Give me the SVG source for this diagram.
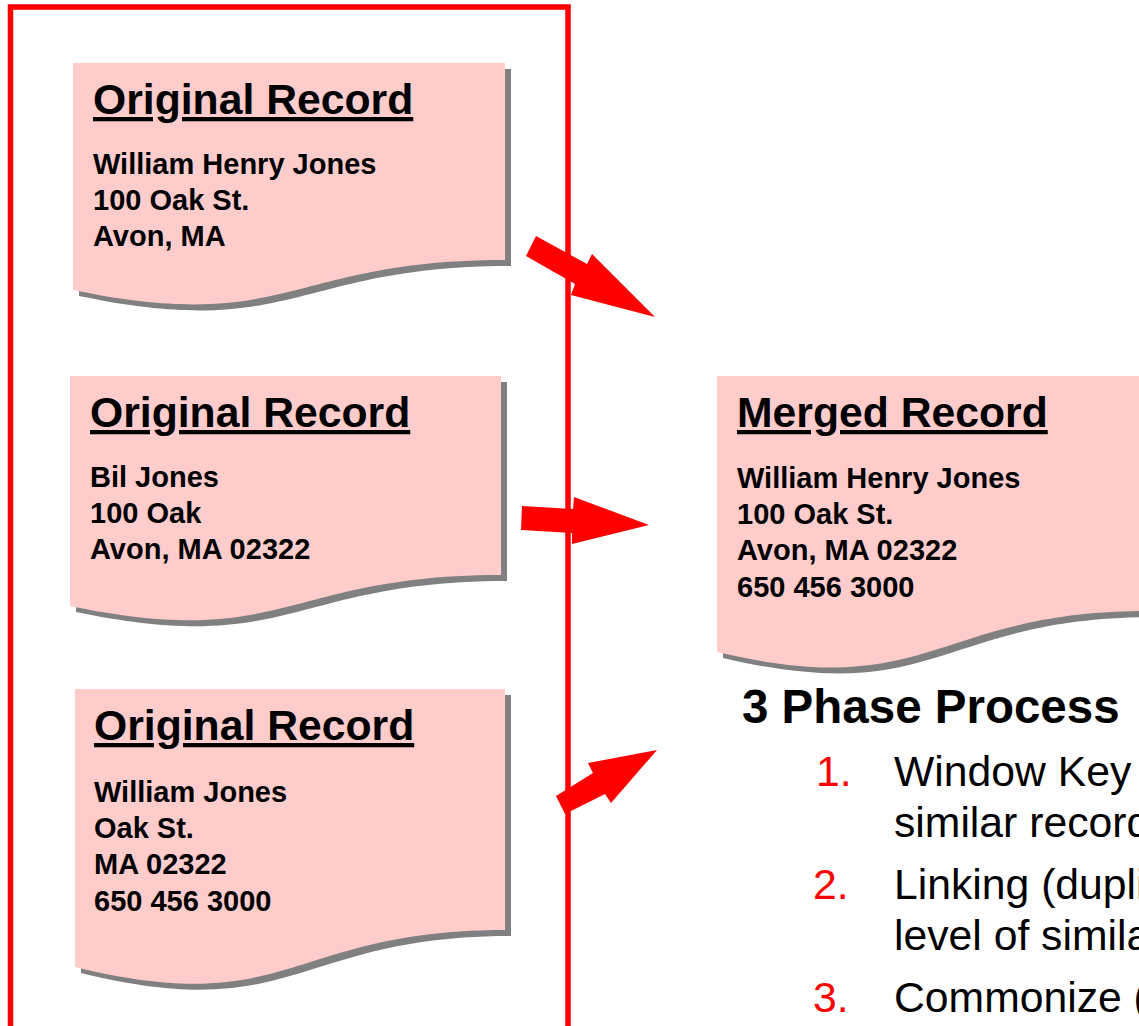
<svg xmlns="http://www.w3.org/2000/svg" width="1139" height="1026" viewBox="0 0 1139 1026">
<style>
.doc{fill:#FFCCCC}
.shd{fill:#808080}
.hd{font-family:"Liberation Sans",Arial,sans-serif;font-weight:bold;font-size:42.7px;text-decoration:underline;fill:#000}
.bd{font-family:"Liberation Sans",Arial,sans-serif;font-weight:bold;font-size:29px;fill:#000}
.ttl{font-family:"Liberation Sans",Arial,sans-serif;font-weight:bold;font-size:47.5px;fill:#000}
.li{font-family:"Liberation Sans",Arial,sans-serif;font-size:42.7px;fill:#000}
.num{font-family:"Liberation Sans",Arial,sans-serif;font-size:42.7px;fill:#FF0000}
.arr{fill:#FF0000}
</style>
<rect width="1139" height="1026" fill="#FFFFFF"/>
<rect id="frame" x="10.5" y="7" width="557.5" height="1100" fill="none" stroke="#FF0000" stroke-width="5.5"/>
<g id="doc1">
<path class="shd" transform="translate(6,6)" d="M73,63 H505 V260 C289,260 289,335 73,290 Z"/>
<path class="doc" d="M73,63 H505 V260 C289,260 289,335 73,290 Z"/>
<text class="hd" x="93" y="114">Original Record</text>
<text class="bd" x="93" y="174">William Henry Jones</text>
<text class="bd" x="93" y="210">100 Oak St.</text>
<text class="bd" x="93" y="246">Avon, MA</text>
</g>
<g id="doc2">
<path class="shd" transform="translate(6,6)" d="M70,376 H501 V575 C285.5,575 285.5,651 70,606 Z"/>
<path class="doc" d="M70,376 H501 V575 C285.5,575 285.5,651 70,606 Z"/>
<text class="hd" x="90" y="427">Original Record</text>
<text class="bd" x="90" y="487">Bil Jones</text>
<text class="bd" x="90" y="523">100 Oak</text>
<text class="bd" x="90" y="559">Avon, MA 02322</text>
</g>
<g id="doc3">
<path class="shd" transform="translate(6,6)" d="M75,689 H505 V930 C290,930 290,1020 75,967 Z"/>
<path class="doc" d="M75,689 H505 V930 C290,930 290,1020 75,967 Z"/>
<text class="hd" x="94" y="740">Original Record</text>
<text class="bd" x="94" y="802">William Jones</text>
<text class="bd" x="94" y="838">Oak St.</text>
<text class="bd" x="94" y="874">MA 02322</text>
<text class="bd" x="94" y="911">650 456 3000</text>
</g>
<g id="merged">
<path class="shd" transform="translate(6,6)" d="M717,376 H1149 V611 C933,611 933,703 717,652 Z"/>
<path class="doc" d="M717,376 H1149 V611 C933,611 933,703 717,652 Z"/>
<text class="hd" x="737" y="427">Merged Record</text>
<text class="bd" x="737" y="488">William Henry Jones</text>
<text class="bd" x="737" y="524">100 Oak St.</text>
<text class="bd" x="737" y="560">Avon, MA 02322</text>
<text class="bd" x="737" y="597">650 456 3000</text>
</g>
<g id="process">
<text class="ttl" x="742" y="723">3 Phase Process</text>
<text class="num" x="816" y="786">1.</text>
<text class="li" x="894" y="786">Window Key</text>
<text class="li" x="894" y="837">similar record</text>
<text class="num" x="813" y="899">2.</text>
<text class="li" x="894" y="899">Linking (dupli</text>
<text class="li" x="894" y="950">level of simila</text>
<text class="num" x="813" y="1012">3.</text>
<text class="li" x="894" y="1012">Commonize (</text>
</g>
<g id="connectors">
<polygon class="arr" points="536,236 587,264 592,254 655,317 571,295 575,284 526,256"/>
<polygon class="arr" points="522,506 573,509 574,497 649,525 572,544 572,533 521,530"/>
<polygon class="arr" points="556,796 593,773 588,763 657,750 611,803 605,794 565,814"/>
</g>
</svg>
